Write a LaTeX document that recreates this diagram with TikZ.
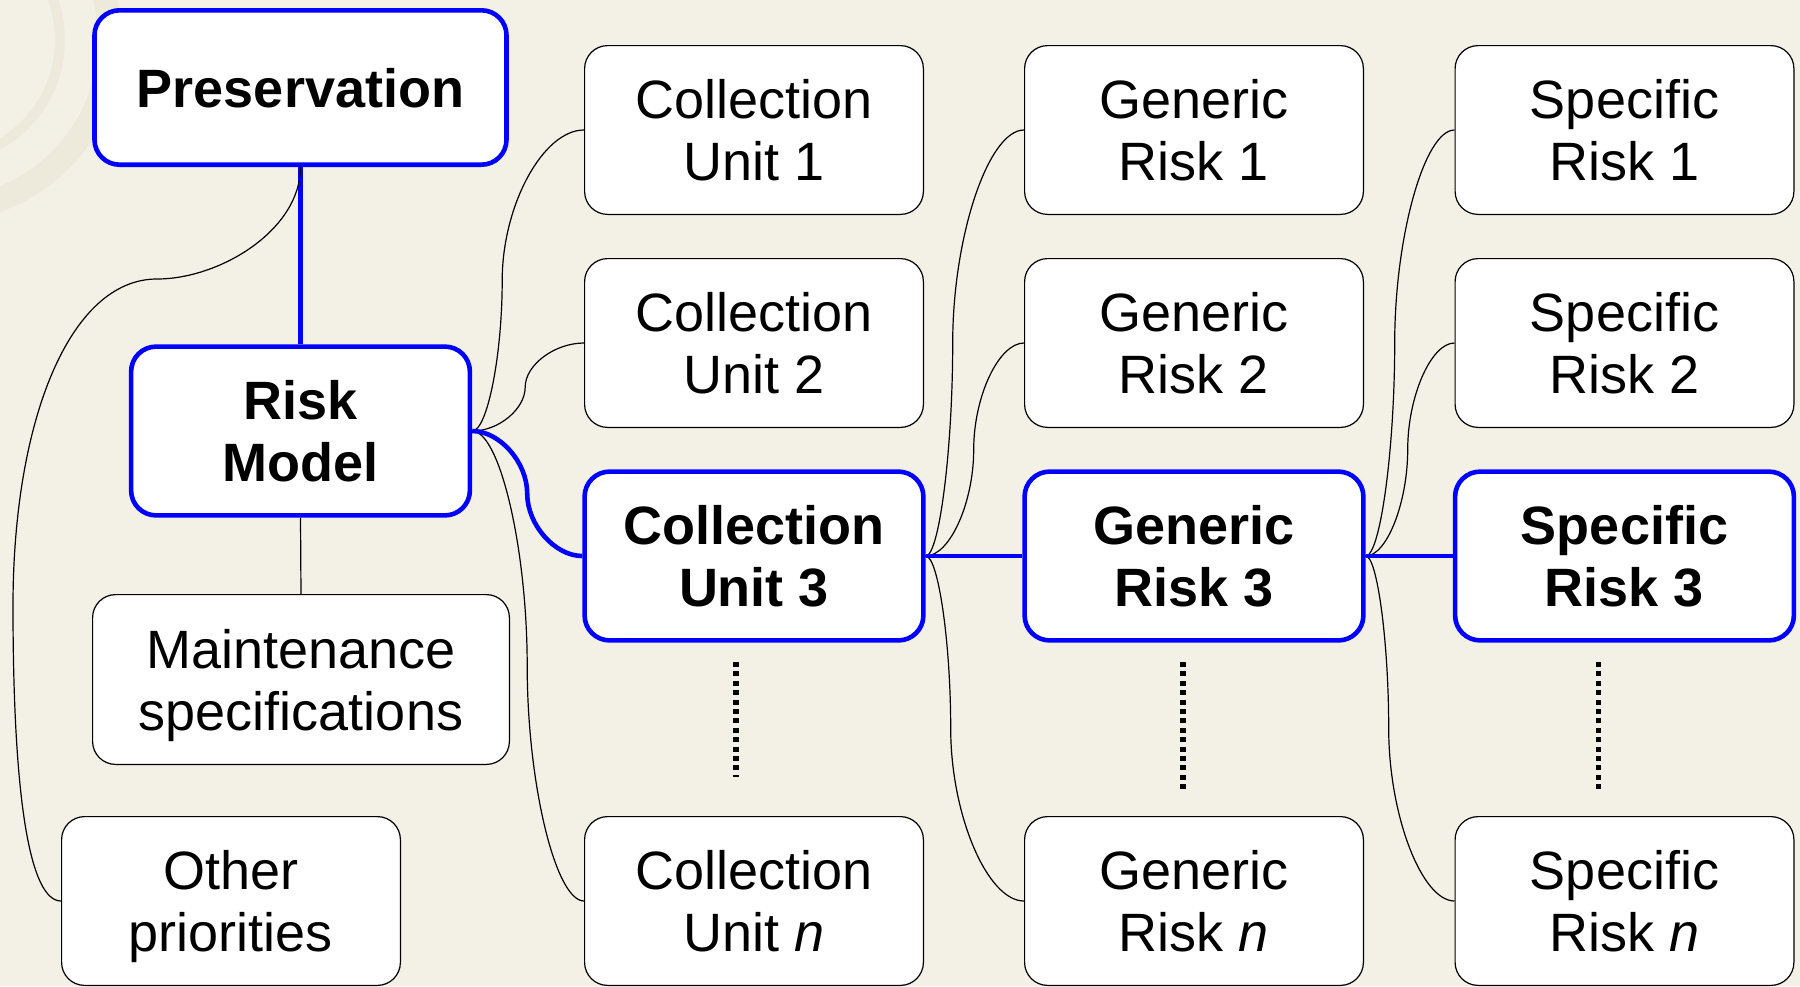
\documentclass[tikz,border=0pt]{standalone}
\usepackage{fontspec}
\setmainfont{Liberation Sans}
\usetikzlibrary{calc}
\definecolor{paper}{RGB}{243,241,230}
\definecolor{stamp}{RGB}{237,234,219}
\definecolor{keyblue}{RGB}{0,0,255}
\tikzset{
box/.style={draw=black, fill=white, line width=0.6pt, rounded corners=11.5pt,
  minimum width=169.4pt, minimum height=84.4pt, inner sep=0pt, align=center,
  text depth=0pt, font=\fontsize{27pt}{31pt}\selectfont},
keybox/.style={box, draw=keyblue, line width=2.3pt, rounded corners=12.5pt,
  font=\fontsize{27pt}{31pt}\selectfont\bfseries},
link/.style={draw=black, line width=0.6pt},
keylink/.style={draw=keyblue, line width=2.3pt},
gapline/.style={draw=black, line width=2.7pt, dash pattern={on 2.5pt off 2.2pt}},
branch/.style={to path={let \p1=(\tikztostart), \p2=(\tikztotarget) in
  .. controls (\x1+#1*0.25pt, \y1) and (\x1+#1*0.5pt, 0.75*\y1+0.25*\y2)
  .. (\x1+#1*0.5pt, 0.5*\y1+0.5*\y2)
  .. controls (\x1+#1*0.5pt, 0.25*\y1+0.75*\y2) and (0.5*\x1+0.5*\x2+#1*0.25pt, \y2)
  .. (\p2) \tikztonodes}}}

\begin{document}
\begin{tikzpicture}[x=0.5pt,y=0.5pt,yscale=-1,xscale=1]
\useasboundingbox (0,0) rectangle (1800,986);
\fill[paper] (0,0) rectangle (1800,986);
%faint emblem in the corner
\draw[stamp, line width=12pt] (-60,40) circle [radius=170];
\draw[stamp, line width=5pt] (-60,40) circle [radius=120];

%Left column
\node[keybox, minimum width=206pt, minimum height=77.2pt] (pres) at (300.5,87.5) {Preservation};
\node[keybox] (rm) at (300.5,431) {Risk\\Model};
\node[box, minimum width=208.4pt, minimum height=84.9pt] (maint) at (301,679.5) {Maintenance\\specifications};
\node[box] (other) at (231,901) {Other\\priorities};

%Collection units
\node[box] (cu1) at (754,130) {Collection\\Unit 1};
\node[box] (cu2) at (754,343) {Collection\\Unit 2};
\node[keybox] (cu3) at (754,556) {Collection\\Unit 3};
\node[box] (cun) at (754,901) {Collection\\Unit \textit{n}};

%Generic risks
\node[box] (gr1) at (1194,130) {Generic\\Risk 1};
\node[box] (gr2) at (1194,343) {Generic\\Risk 2};
\node[keybox] (gr3) at (1194,556) {Generic\\Risk 3};
\node[box] (grn) at (1194,901) {Generic\\Risk \textit{n}};

%Specific risks
\node[box] (sr1) at (1624.5,130) {Specific\\Risk 1};
\node[box] (sr2) at (1624.5,343) {Specific\\Risk 2};
\node[keybox] (sr3) at (1624.5,556) {Specific\\Risk 3};
\node[box] (srn) at (1624.5,901) {Specific\\Risk \textit{n}};

%Connectors of the left column
\draw[keylink] (pres.south) -- (rm.north);
\draw[link] (rm.south) -- (maint.north);
\draw[link] (pres.south) .. controls (300.5,230) and (220,279) .. (157,279)
  .. controls (70,279) and (13,420) .. (13,606)
  .. controls (13,800) and (30,901) .. (other.west);

%Branches to the collection units
\draw[link] (rm.east) to[branch=30] (cu1.west);
\draw[link] (rm.east) to[branch=53] (cu2.west);
\draw[link] (rm.east) to[branch=55] (cun.west);
\draw[keylink] (rm.east) to[branch=55] (cu3.west);

%Branches to the generic risks
\draw[link] (cu3.east) to[branch=27] (gr1.west);
\draw[link] (cu3.east) to[branch=48] (gr2.west);
\draw[link] (cu3.east) to[branch=25] (grn.west);
\draw[keylink] (cu3.east) -- (gr3.west);

%Branches to the specific risks
\draw[link] (gr3.east) to[branch=29] (sr1.west);
\draw[link] (gr3.east) to[branch=42] (sr2.west);
\draw[link] (gr3.east) to[branch=23] (srn.west);
\draw[keylink] (gr3.east) -- (sr3.west);

%Omitted rows
\draw[gapline] (736,662) -- (736,777);
\draw[gapline] (1183,662) -- (1183,789);
\draw[gapline] (1598.5,662) -- (1598.5,789);

\end{tikzpicture}
\end{document}
